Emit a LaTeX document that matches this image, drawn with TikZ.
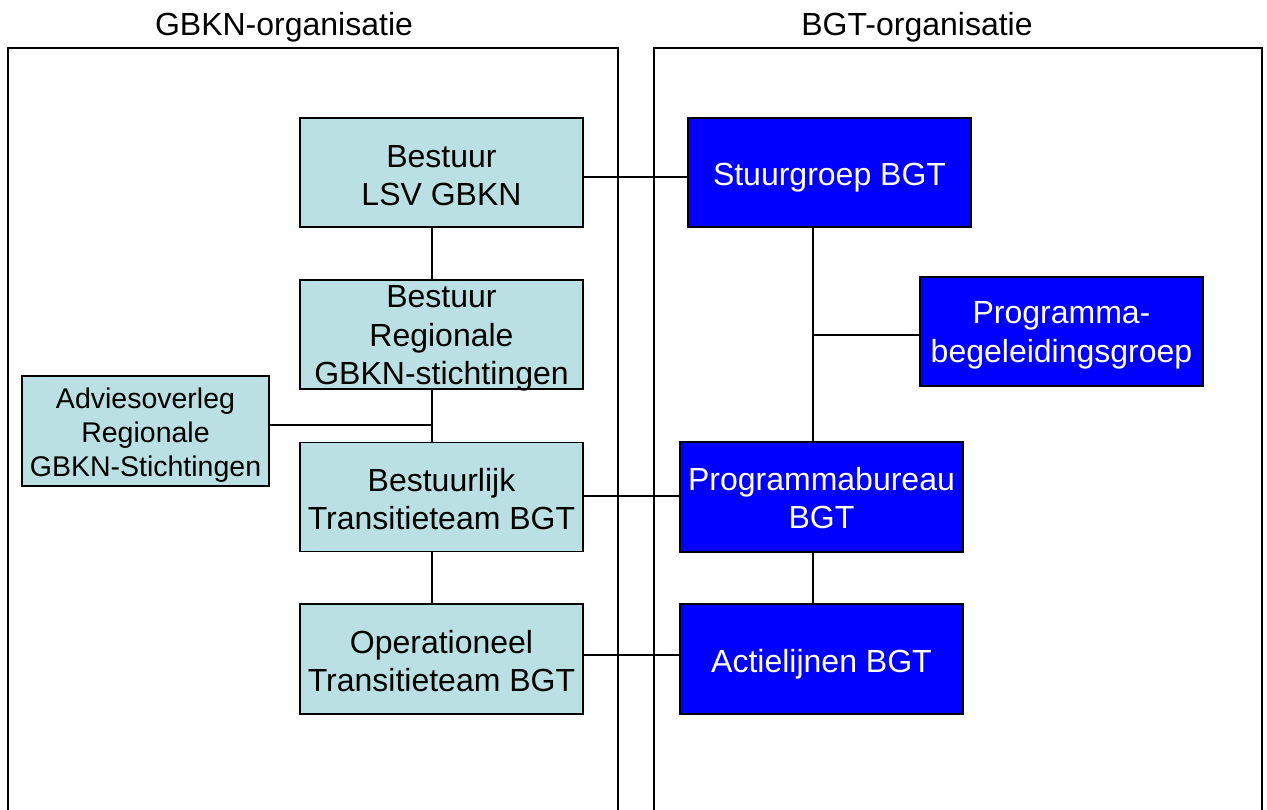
\documentclass[tikz,border=0pt]{standalone}
\usepackage{fontspec}
\setmainfont{Liberation Sans}
\definecolor{lightbox}{RGB}{187,224,227}
\definecolor{bluebox}{RGB}{0,0,255}
\begin{document}
\begin{tikzpicture}[x=1pt,y=-1pt,
  frame/.style={line width=1.3pt,draw=black},
  lbox/.style={draw=black,line width=1.2pt,fill=lightbox,minimum width=283pt,minimum height=109pt,inner sep=0pt},
  bbox/.style={lbox,fill=bluebox},
  abox/.style={lbox,minimum width=247pt,minimum height=110pt},
  ltext/.style={align=center,inner sep=0pt,font=\fontsize{32}{38.4}\selectfont},
  btext/.style={ltext,text=white},
  atext/.style={ltext,font=\fontsize{28.5}{34}\selectfont},
  conn/.style={line width=1.1pt,draw=black},
  title/.style={font=\fontsize{32}{38.4}\selectfont,inner sep=0pt}]
\useasboundingbox (0,0) rectangle (1267,810);
% containers
\draw[frame] (8,812) -- (8,48) -- (618,48) -- (618,812);
\draw[frame] (654,812) -- (654,48) -- (1262,48) -- (1262,812);
\node[title] (t1) at (284,27) {GBKN-organisatie};
\node[title] (t2) at (917,27) {BGT-organisatie};
% left boxes
\node[lbox] (lsv) at (441.5,172.5) {};
\node[ltext] (lsvt) at ([yshift=-3pt]lsv.center) {Bestuur\\LSV GBKN};
\node[lbox] (reg) at (441.5,334.5) {};
\node[ltext] (regt) at ([yshift=-4pt]reg.center) {Bestuur\\Regionale\\GBKN-stichtingen};
\node[abox] (adv) at (145.5,431) {};
\node[atext] (advt) at ([yshift=-4pt]adv.center) {Adviesoverleg\\Regionale\\GBKN-Stichtingen};
\node[lbox] (bes) at (441.5,497) {};
\node[ltext] (best) at ([yshift=-2pt]bes.center) {Bestuurlijk\\Transitieteam BGT};
\node[lbox,minimum height=110pt] (ope) at (441.5,659) {};
\node[ltext] (opet) at ([yshift=-2pt]ope.center) {Operationeel\\Transitieteam BGT};
% right boxes
\node[bbox] (stu) at (829.5,172.5) {};
\node[btext] (stut) at ([yshift=-5pt]stu.center) {Stuurgroep BGT};
\node[bbox] (pbg) at (1061.5,331.5) {};
\node[btext] (pbgt) at ([yshift=-4pt]pbg.center) {Programma-\\begeleidingsgroep};
\node[bbox,minimum height=110pt] (pbu) at (821.5,497) {};
\node[btext] (pbut) at ([yshift=-1pt]pbu.center) {Programmabureau\\BGT};
\node[bbox,minimum height=110pt] (act) at (821.5,659) {};
\node[btext] (actt) at ([yshift=-5pt]act.center) {Actielijnen BGT};
% helper coordinates
\coordinate (vl) at (432,0);
\coordinate (vr) at (813,0);
\coordinate (aj) at (432,425);
\coordinate (pj) at (813,335);
\coordinate (h1) at (0,177);
\coordinate (h2) at (0,496);
\coordinate (h3) at (0,655);
% left column connectors
\draw[conn] (lsv.south-|vl) -- (reg.north-|vl);
\draw[conn] (reg.south-|vl) -- (bes.north-|vl);
\draw[conn] (bes.south-|vl) -- (ope.north-|vl);
\draw[conn] (adv.east|-aj) -- (aj);
% right column connectors
\draw[conn] (stu.south-|vr) -- (pbu.north-|vr);
\draw[conn] (pbu.south-|vr) -- (act.north-|vr);
\draw[conn] (pbg.west|-pj) -- (pj);
% cross connectors
\draw[conn] (lsv.east|-h1) -- (stu.west|-h1);
\draw[conn] (bes.east|-h2) -- (pbu.west|-h2);
\draw[conn] (ope.east|-h3) -- (act.west|-h3);
\end{tikzpicture}
\end{document}
